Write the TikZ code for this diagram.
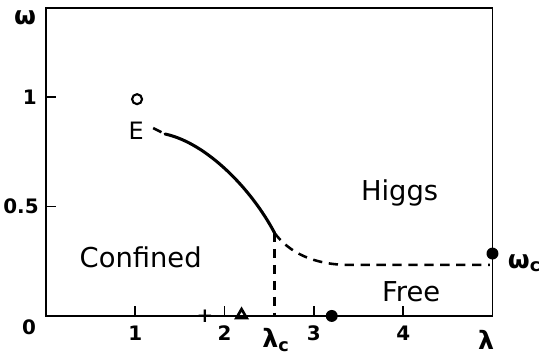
\documentclass[tikz,border=0pt]{standalone}
\usepackage{fontspec}
\setmainfont{DejaVu Sans}
\usetikzlibrary{positioning, shapes.geometric}
\tikzset{
  frame/.style={line width=1.2pt, draw=black},
  tickmark/.style={line width=1.2pt},
  boundary/.style={line width=2.3pt, line cap=round},
  crossover/.style={line width=1.9pt, dash pattern=on 7pt off 5pt},
  phase/.style={font=\fontsize{20.6}{24}\selectfont},
  ticklbl/.style={font=\fontsize{15}{17}\selectfont\bfseries, inner sep=0pt},
  greeklbl/.style={font=\fontsize{19}{21}\selectfont\bfseries, inner sep=0pt},
  fulldot/.style={circle, fill=black, inner sep=0pt, minimum size=9pt},
  opendot/.style={circle, draw=black, line width=1.6pt, inner sep=0pt, minimum size=7.5pt},
  trimark/.style={regular polygon, regular polygon sides=3, draw=black,
    line width=2pt, inner sep=0pt, minimum size=9pt}
}

\begin{document}
\begin{tikzpicture}[x=2.363cm, y=5.794cm]
  \useasboundingbox (-0.515,-0.201) rectangle (5.521,1.443);

  % Frame and ticks
  \draw[frame] (0,0) rectangle (5,1.406);
  \foreach \x in {1,2,3,4} {
    \draw[tickmark] (\x,0) -- ++(0,0.045);
  }
  \foreach \y in {0.5,1} {
    \draw[tickmark] (0,\y) -- ++(0.11,0);
  }

  % Axis labels
  \node[greeklbl] (omg) at (-0.235,1.36) {ω};
  \node[ticklbl] (y1) at (-0.18,1) {1};
  \node[ticklbl] (y05) at (-0.28,0.5) {0.5};
  \node[ticklbl] (y0) at (-0.19,-0.05) {0};
  \foreach \x in {1,2,3,4} {
    \node[ticklbl] (x\x) at (\x,-0.08) {\x};
  }
  \node[greeklbl, anchor=west] (lamc) at (2.42,-0.11) {λ\textsubscript{c}};
  \node[greeklbl] (lam) at (4.93,-0.11) {λ};
  \node[greeklbl, anchor=west] (omgc) at (5.17,0.24) {ω\textsubscript{c}};

  % Curve points
  \coordinate (e0) at (1.20,0.858);
  \coordinate (e1) at (1.333,0.831);
  \coordinate (lc) at (2.56,0.379);
  \coordinate (lc0) at (2.56,0);
  \coordinate (wc) at (4.97,0.233);

  % Phase boundaries
  \draw[crossover] (e0) -- (e1);
  \draw[boundary] (e1) .. controls (1.8,0.79) and (2.3,0.58) .. (lc);
  \draw[crossover] (lc) .. controls (2.72,0.29) and (3.0,0.233) .. (3.4,0.233) -- (wc);
  \draw[crossover] (lc) -- (lc0);

  % Markers
  \node[opendot] (pt) at (1.02,0.99) {};
  \node[font=\fontsize{18}{20}\selectfont, inner sep=0pt] (E) at (1.01,0.845) {E};
  \node[fulldot] (fr) at (3.2,0) {};
  \node[fulldot] (hg) at (5,0.285) {};
  \node[font=\fontsize{15}{16}\selectfont\bfseries, inner sep=0pt] (plus) at (1.78,0) {+};
  \node[trimark] (tri) at (2.19,0.004) {};

  % Phase names
  \node[phase] (higgs) at (3.96,0.56) {Higgs};
  \node[phase] (conf) at (1.06,0.27) {Confined};
  \node[phase] (free) at (4.09,0.11) {Free};
\end{tikzpicture}
\end{document}
